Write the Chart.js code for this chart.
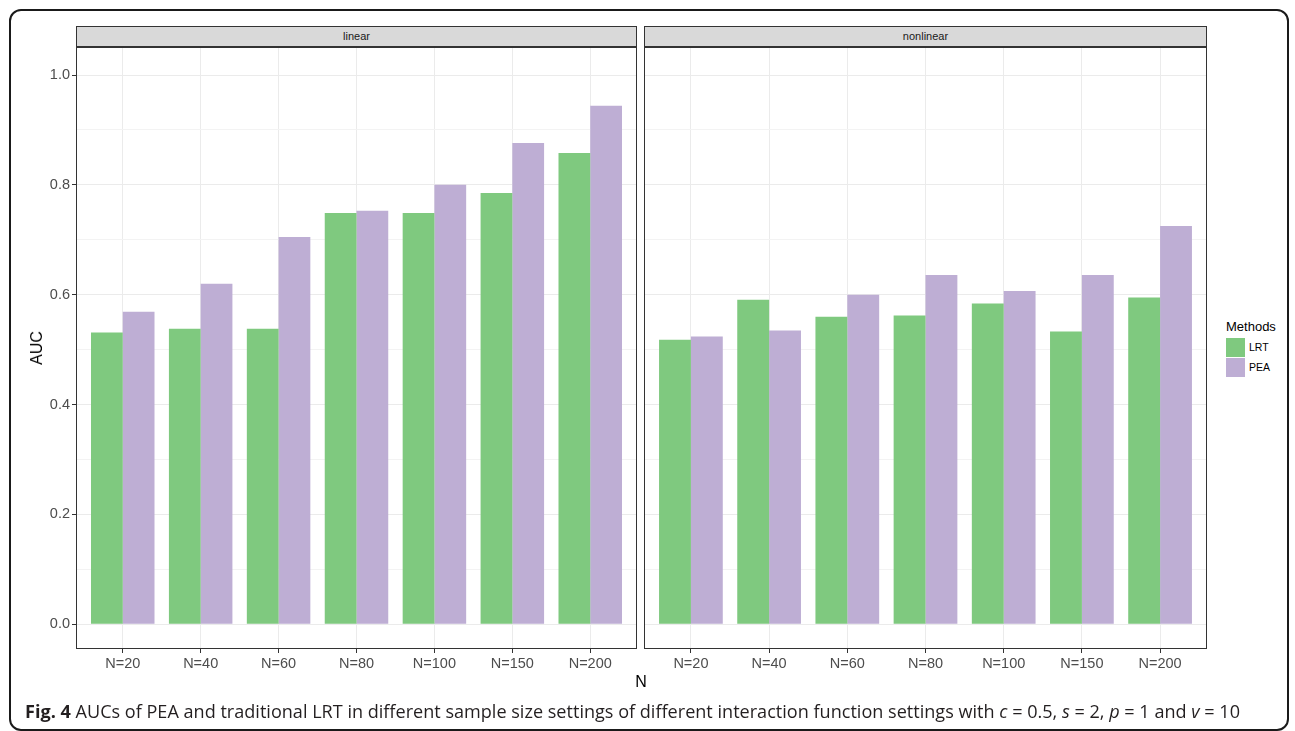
<!DOCTYPE html>
<html>
<head>
<meta charset="utf-8">
<script src="https://cdn.jsdelivr.net/npm/chart.js@4/dist/chart.umd.min.js"></script>
<style>
  html, body { margin: 0; padding: 0; background: #fff; }
  body { width: 1295px; height: 731px; position: relative; overflow: hidden; font-family: "Liberation Sans", Arial, sans-serif; }
  .frame { position: absolute; left: 9px; top: 9px; width: 1280px; height: 722px; border: 2px solid #1a1a1a; border-radius: 12px; box-sizing: border-box; }
  canvas { position: absolute; top: 0; }
  .strip { position: absolute; top: 26px; height: 21px; background: #d9d9d9; border: 1px solid #333; box-sizing: border-box; font-size: 11px; color: #1a1a1a; text-align: center; line-height: 19px; }
  .axtitle { position: absolute; font-size: 16px; color: #000; white-space: nowrap; }
  .legend { position: absolute; left: 1226px; top: 318px; }
  .legend .ttl { font-size: 13px; color: #000; height: 19px; line-height: 18px; }
  .legend .row { height: 20px; display: flex; align-items: center; }
  .legend .sw { width: 19px; height: 19px; margin-right: 4px; }
  .legend .lb { font-size: 10.5px; color: #000; }
  .caption { position: absolute; left: 25px; top: 699px; font-family: "Open Sans", "Noto Sans", sans-serif; font-size: 18px; color: #231f20; white-space: nowrap; transform-origin: 0 0; }
  .caption b { font-weight: 700; }
</style>
</head>
<body>
<div class="frame"></div>
<canvas id="c1" width="640" height="700" style="left:0px;width:640px;height:700px"></canvas>
<canvas id="c2" width="570" height="700" style="left:640px;width:570px;height:700px"></canvas>
<div class="strip" id="s1" style="left:76px;width:561px;"></div>
<div class="strip" id="s2" style="left:644px;width:563px;"></div>
<div class="axtitle" id="ytitle" style="left:37px;top:348px;transform:translate(-50%,-50%) rotate(-90deg);">AUC</div>
<div class="axtitle" id="xtitle" style="left:641px;top:682px;transform:translate(-50%,-50%);">N</div>
<div class="legend" id="legend"></div>
<div class="caption" id="caption"><b>Fig. 4</b> AUCs of PEA and traditional LRT in different sample size settings of different interaction function settings with <i>c</i> = 0.5, <i>s</i> = 2, <i>p</i> = 1 and <i>v</i> = 10</div>
<script>
const categories = ['N=20', 'N=40', 'N=60', 'N=80', 'N=100', 'N=150', 'N=200'];
const panels = ['linear', 'nonlinear'];
const methods = ['LRT', 'PEA'];
const linearLRT = [0.531, 0.538, 0.538, 0.749, 0.749, 0.785, 0.858];
const linearPEA = [0.569, 0.620, 0.705, 0.753, 0.800, 0.876, 0.944];
const nonlinearLRT = [0.518, 0.591, 0.560, 0.562, 0.584, 0.533, 0.595];
const nonlinearPEA = [0.524, 0.535, 0.600, 0.636, 0.607, 0.636, 0.725];
const yTickValues = [0, 0.1, 0.2, 0.3, 0.4, 0.5, 0.6, 0.7, 0.8, 0.9, 1.0];
const yLabelValues = [0, 0.2, 0.4, 0.6, 0.8, 1.0];
const colors = { LRT: '#7fc97f', PEA: '#beaed4' };

document.getElementById('s1').textContent = panels[0];
document.getElementById('s2').textContent = panels[1];

const leg = document.getElementById('legend');
leg.innerHTML = '<div class="ttl">Methods</div>' + methods.map(m =>
  '<div class="row"><div class="sw" style="background:' + colors[m] + '"></div><span class="lb">' + m + '</span></div>').join('');

const isMajor = v => yLabelValues.some(l => Math.abs(l - v) < 1e-6);

const borderPlugin = {
  id: 'panelBorder',
  afterDraw(chart) {
    const a = chart.chartArea, c = chart.ctx;
    c.save();
    c.strokeStyle = '#333333';
    c.lineWidth = 1;
    c.strokeRect(Math.round(a.left) + 0.5, Math.round(a.top) + 0.5, Math.round(a.right - a.left) - 1, Math.round(a.bottom - a.top) - 1);
    c.restore();
  }
};

function makeChart(id, lrt, pea, showY, padLeft, padRight) {
  const ds = (name, vals) => ({
    label: name,
    data: vals.map((v, i) => ({ x: i, y: v })),
    backgroundColor: colors[name],
    borderWidth: 0,
    categoryPercentage: 0.815,
    barPercentage: 1.0
  });
  return new Chart(document.getElementById(id), {
    type: 'bar',
    data: { datasets: [ds('LRT', lrt), ds('PEA', pea)] },
    plugins: [borderPlugin],
    options: {
      responsive: false,
      animation: false,
      layout: { padding: { top: 47, left: padLeft, right: padRight, bottom: 0 } },
      plugins: { legend: { display: false }, tooltip: { enabled: false } },
      scales: {
        x: {
          type: 'linear',
          min: -0.6, max: 6.6,
          offset: false,
          afterBuildTicks: s => { s.ticks = categories.map((c, i) => ({ value: i })); },
          afterFit: s => { s.height = 700 - 649; },
          border: { display: false },
          grid: { offset: false, color: '#ebebeb', lineWidth: 1, tickColor: '#333333', tickLength: 4, drawTicks: true },
          ticks: {
            autoSkip: false, maxRotation: 0, padding: 2,
            color: '#4d4d4d', font: { family: 'Liberation Sans', size: 14.5 },
            callback: v => categories[v]
          }
        },
        y: {
          min: -0.045, max: 1.051,
          afterBuildTicks: s => { s.ticks = yTickValues.map(v => ({ value: v })); },
          afterFit: s => { s.width = showY ? 76 : 0; },
          border: { display: false },
          grid: {
            color: ctx => isMajor(ctx.tick ? ctx.tick.value : 0) ? '#ebebeb' : '#f3f3f3',
            lineWidth: 1,
            drawTicks: showY,
            tickLength: 4,
            tickColor: ctx => (ctx.tick && isMajor(ctx.tick.value)) ? '#333333' : 'rgba(0,0,0,0)'
          },
          ticks: {
            display: showY, autoSkip: false, padding: 2,
            color: '#4d4d4d', font: { family: 'Liberation Sans', size: 14.5 },
            callback: v => isMajor(v) ? v.toFixed(1) : ''
          }
        }
      }
    }
  });
}

makeChart('c1', linearLRT, linearPEA, true, 0, 3);
makeChart('c2', nonlinearLRT, nonlinearPEA, false, 4, 3);

const cap = document.getElementById('caption');
const w = cap.getBoundingClientRect().width;
cap.style.transform = 'scaleX(' + (1215 / w) + ')';
</script>
</body>
</html>
